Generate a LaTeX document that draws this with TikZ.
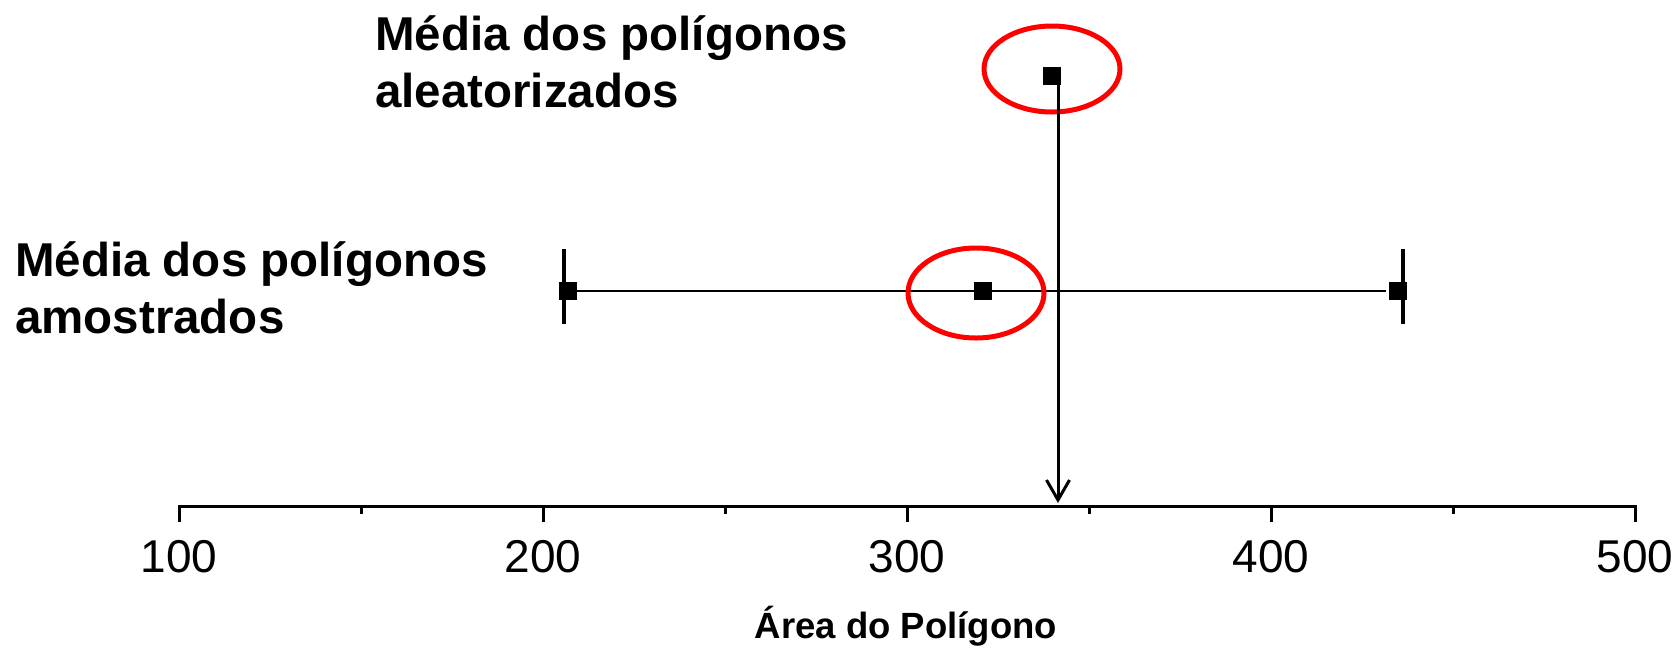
\documentclass[tikz,border=0pt]{standalone}
\usepackage{fontspec}
\setmainfont{Liberation Sans}
\usetikzlibrary{arrows.meta,shapes.geometric}
\tikzset{
  lbl/.style={font=\bfseries\fontsize{47.5}{57}\selectfont, inner sep=0pt, align=left},
  ticklbl/.style={font=\fontsize{46}{50}\selectfont, inner sep=0pt, anchor=base},
  ttl/.style={font=\bfseries\fontsize{36.5}{40}\selectfont, inner sep=0pt, anchor=base},
  marker/.style={rectangle, fill=black, minimum size=18pt, inner sep=0pt},
  ring/.style={ellipse, draw=red, line width=5pt, inner sep=0pt},
  axisline/.style={line width=3pt},
  barcap/.style={line width=3.5pt},
  bar/.style={line width=1.5pt},
  pointer/.style={line width=3pt, -{Straight Barb[length=20pt,width=23pt,line width=3pt]}},
}
\begin{document}
\begin{tikzpicture}[x=1pt,y=-1pt]
\useasboundingbox (0,0) rectangle (1679,649);
% axis
\coordinate (ax0) at (179,506);
\coordinate (ax1) at (1635,506);
\draw[axisline, line cap=rect] (ax0) -- (ax1);
\foreach \v/\px in {100/179,200/543,300/907,400/1271,500/1635}{
  \draw[axisline] (\px,506) -- (\px,522);
  \node[ticklbl] (t\v) at (\px,572) {\v};
}
\foreach \px in {361,725,1089,1453}{
  \draw[axisline] (\px,506) -- (\px,514);
}
\node[ttl] (title) at (906,638) {Área do Polígono};
% lower data
\node[marker] (lo) at (568,291) {};
\node[marker] (mid) at (983,291) {};
\node[marker] (hi) at (1398,291) {};
\draw[bar] (576,291) -- (mid.west);
\draw[bar] (mid.east) -- (1386,291);
\draw[barcap] (564,249) -- (564,324);
\draw[barcap] (1403,249) -- (1403,324);
\node[ring, minimum width=136pt, minimum height=90pt] (ringlo) at (976,293) {};
% upper data
\node[marker] (top) at (1052,76) {};
\node[ring, minimum width=136pt, minimum height=86pt] (ringtop) at (1052,69) {};
\coordinate (tip) at (1058,503);
\draw[pointer] (top.south -| tip) -- (tip);
% labels (base anchor = baseline of last line)
\node[lbl, anchor=base west] (labtop) at (375,107) {Média dos polígonos\\aleatorizados};
\node[lbl, anchor=base west] (lablo) at (15,333) {Média dos polígonos\\amostrados};
\end{tikzpicture}
\end{document}
